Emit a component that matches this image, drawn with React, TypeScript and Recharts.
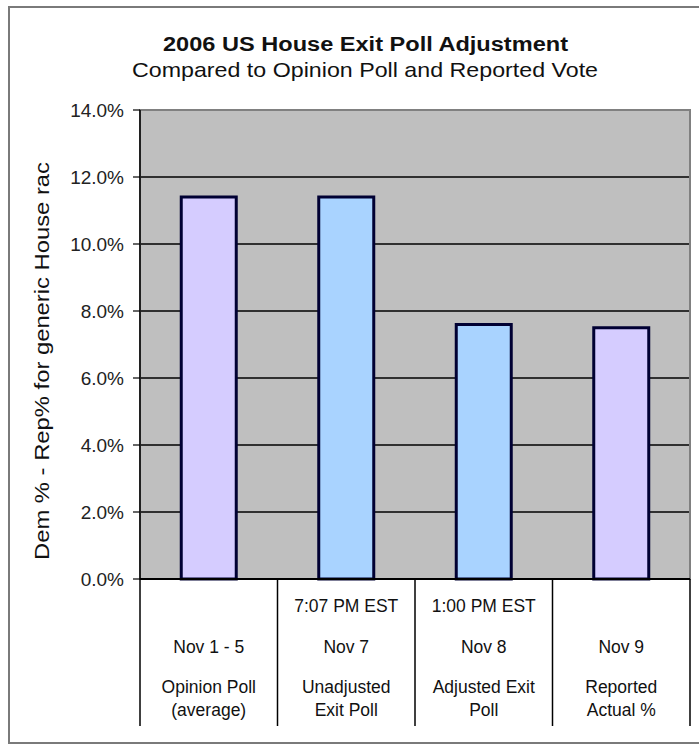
import { BarChart, Bar, Cell, XAxis, YAxis, CartesianGrid, ReferenceArea } from 'recharts';

const CATEGORY_KEYS = ['opinion', 'unadjusted', 'adjusted', 'reported'];
const TIME_LABELS = ['', '7:07 PM EST', '1:00 PM EST', ''];
const DATE_LABELS = ['Nov 1 - 5', 'Nov 7', 'Nov 8', 'Nov 9'];
const NAME_LINE1 = ['Opinion Poll', 'Unadjusted', 'Adjusted Exit', 'Reported'];
const NAME_LINE2 = ['(average)', 'Exit Poll', 'Poll', 'Actual %'];
const MARGIN_PCT = [11.4, 11.4, 7.6, 7.5];
const Y_TICKS = [0, 2, 4, 6, 8, 10, 12, 14];
const GRID_VALUES = [2, 4, 6, 8, 10, 12];

const LAVENDER = '#d5ccff';
const SKY = '#a9d3ff';
const BAR_COLORS = [LAVENDER, SKY, SKY, LAVENDER];

const FONT = '"Liberation Sans", Arial, sans-serif';
const W = 699;
const H = 745;
const PLOT_LEFT = 140;
const PLOT_RIGHT = 690;
const BAND = (PLOT_RIGHT - PLOT_LEFT) / CATEGORY_KEYS.length;
const ROW_DY = [27, 68, 108, 131];

const data = CATEGORY_KEYS.map((key, i) => ({ key, value: MARGIN_PCT[i] }));

function XTick(props: any) {
  const { x, y, payload } = props;
  const i = CATEGORY_KEYS.indexOf(payload.value);
  const half = BAND / 2;
  const rows = [TIME_LABELS[i], DATE_LABELS[i], NAME_LINE1[i], NAME_LINE2[i]];
  return (
    <g>
      <line x1={x - half} y1={y} x2={x - half} y2={y + 147} stroke="#000" strokeWidth={1.5} />
      {i === CATEGORY_KEYS.length - 1 && (
        <line x1={x + half} y1={y} x2={x + half} y2={y + 147} stroke="#000" strokeWidth={1.5} />
      )}
      {rows.map((t, r) =>
        t ? (
          <text
            key={r}
            x={x}
            y={y + ROW_DY[r]}
            dy="0.35em"
            textAnchor="middle"
            fontFamily={FONT}
            fontSize={17.5}
            fill="#111"
          >
            {t}
          </text>
        ) : null
      )}
    </g>
  );
}

function YTick(props: any) {
  const { x, y, payload } = props;
  return (
    <text x={x} y={y} dy="0.35em" textAnchor="end" fontFamily={FONT} fontSize={19} fill="#222">
      {Number(payload.value).toFixed(1) + '%'}
    </text>
  );
}

export default function App() {
  return (
    <div style={{ position: 'absolute', left: 0, top: 0, width: W, height: H, background: '#fff', overflow: 'hidden' }}>
      <div
        style={{
          position: 'absolute',
          left: 8,
          top: 6,
          width: W - 8,
          height: 738,
          boxSizing: 'border-box',
          borderTop: '2px solid #7a7a7a',
          borderLeft: '2px solid #7a7a7a',
          borderBottom: '2px solid #7a7a7a',
        }}
      />
      <div style={{ position: 'absolute', left: 0, top: 0 }}>
        <BarChart
          width={W}
          height={H}
          data={data}
          margin={{ top: 110, right: W - PLOT_RIGHT, left: 0, bottom: 16 }}
          barCategoryGap="30%"
        >
          <CartesianGrid
            vertical={false}
            horizontalValues={GRID_VALUES}
            stroke="#000"
            strokeWidth={1.6}
            fill="#bfbfbf"
            fillOpacity={1}
          />
          <ReferenceArea y1={0} y2={14} fill="none" stroke="#808080" strokeWidth={2} ifOverflow="extendDomain" />
          <XAxis
            dataKey="key"
            type="category"
            height={150}
            tickSize={0}
            tickMargin={0}
            tickLine={false}
            axisLine={{ stroke: '#000', strokeWidth: 2 }}
            tick={<XTick />}
            interval={0}
          />
          <YAxis
            width={PLOT_LEFT}
            domain={[0, 14]}
            ticks={Y_TICKS}
            interval={0}
            tickSize={7}
            tickMargin={9}
            tickLine={{ stroke: '#000', strokeWidth: 1.2 }}
            axisLine={{ stroke: '#000', strokeWidth: 1.5 }}
            tick={<YTick />}
          />
          <Bar dataKey="value" stroke="#000033" strokeWidth={3} isAnimationActive={false}>
            {data.map((d, i) => (
              <Cell key={d.key} fill={BAR_COLORS[i]} />
            ))}
          </Bar>
        </BarChart>
      </div>
      <svg width={W} height={H} style={{ position: 'absolute', left: 0, top: 0, pointerEvents: 'none' }}>
        <text
          x={365.5}
          y={51}
          textAnchor="middle"
          fontFamily={FONT}
          fontWeight="bold"
          fontSize={20}
          textLength={405}
          lengthAdjust="spacingAndGlyphs"
          fill="#111"
        >
          2006 US House Exit Poll Adjustment
        </text>
        <text
          x={365}
          y={77}
          textAnchor="middle"
          fontFamily={FONT}
          fontSize={21}
          textLength={466}
          lengthAdjust="spacingAndGlyphs"
          fill="#111"
        >
          Compared to Opinion Poll and Reported Vote
        </text>
        <text
          transform="translate(42,361) rotate(-90)"
          dy="0.35em"
          textAnchor="middle"
          fontFamily={FONT}
          fontSize={20}
          textLength={398}
          lengthAdjust="spacingAndGlyphs"
          fill="#111"
        >
          Dem % - Rep% for generic House rac
        </text>
      </svg>
    </div>
  );
}
